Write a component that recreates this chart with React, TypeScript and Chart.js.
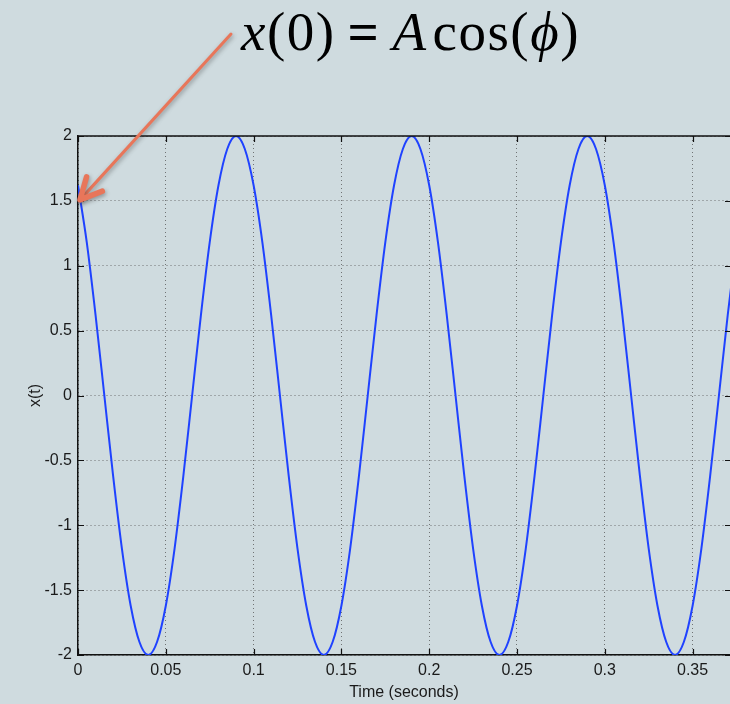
import React, { useEffect, useRef } from 'react';
import { Chart, registerables } from 'chart.js';

Chart.register(...registerables);

// Time samples (seconds)
const timeSeconds = [
  0, 0.005, 0.01, 0.015, 0.02, 0.025, 0.03, 0.035, 0.04, 0.045,
  0.05, 0.055, 0.06, 0.065, 0.07, 0.075, 0.08, 0.085, 0.09, 0.095,
  0.1, 0.105, 0.11, 0.115, 0.12, 0.125, 0.13, 0.135, 0.14, 0.145,
  0.15, 0.155, 0.16, 0.165, 0.17, 0.175, 0.18, 0.185, 0.19, 0.195,
  0.2, 0.205, 0.21, 0.215, 0.22, 0.225, 0.23, 0.235, 0.24, 0.245,
  0.25, 0.255, 0.26, 0.265, 0.27, 0.275, 0.28, 0.285, 0.29, 0.295,
  0.3, 0.305, 0.31, 0.315, 0.32, 0.325, 0.33, 0.335, 0.34, 0.345,
  0.35, 0.355, 0.36, 0.365, 0.37, 0.375,
];

// x(t) values
const signalValues = [
  1.62, 1.18, 0.62, 0, -0.62, -1.18, -1.62, -1.9, -2, -1.9,
  -1.62, -1.18, -0.62, 0, 0.62, 1.18, 1.62, 1.9, 2, 1.9,
  1.62, 1.18, 0.62, 0, -0.62, -1.18, -1.62, -1.9, -2, -1.9,
  -1.62, -1.18, -0.62, 0, 0.62, 1.18, 1.62, 1.9, 2, 1.9,
  1.62, 1.18, 0.62, 0, -0.62, -1.18, -1.62, -1.9, -2, -1.9,
  -1.62, -1.18, -0.62, 0, 0.62, 1.18, 1.62, 1.9, 2, 1.9,
  1.62, 1.18, 0.62, 0, -0.62, -1.18, -1.62, -1.9, -2, -1.9,
  -1.62, -1.18, -0.62, 0, 0.62, 1.18,
];

const xTickValues = [0, 0.05, 0.1, 0.15, 0.2, 0.25, 0.3, 0.35];
const xTickLabels = ['0', '0.05', '0.1', '0.15', '0.2', '0.25', '0.3', '0.35'];
const yTickValues = [-2, -1.5, -1, -0.5, 0, 0.5, 1, 1.5, 2];
const yTickLabels = ['-2', '-1.5', '-1', '-0.5', '0', '0.5', '1', '1.5', '2'];

const X_MIN = 0;
const X_MAX = 0.3713;
const Y_MIN = -2;
const Y_MAX = 2;

const BG = '#cfdbdf';
const LINE_COLOR = '#1f42ff';
const ARROW_COLOR = '#e8765a';
const FONT_FAMILY = '"Liberation Sans", Arial, Helvetica, sans-serif';

const decorPlugin = {
  id: 'decor',
  afterDraw(chart: any) {
    const { ctx, chartArea: a, scales } = chart;
    const xs = scales.x;
    const ys = scales.y;
    ctx.save();
    // frame top line and inward ticks
    ctx.strokeStyle = '#111';
    ctx.lineWidth = 1.5;
    ctx.beginPath();
    ctx.moveTo(a.left, a.top);
    ctx.lineTo(a.right, a.top);
    ctx.stroke();
    ctx.lineWidth = 1.2;
    ctx.beginPath();
    for (const v of xTickValues) {
      const px = Math.round(xs.getPixelForValue(v)) + 0.5;
      ctx.moveTo(px, a.bottom);
      ctx.lineTo(px, a.bottom - 6);
      ctx.moveTo(px, a.top);
      ctx.lineTo(px, a.top + 6);
    }
    for (const v of yTickValues) {
      const py = Math.round(ys.getPixelForValue(v)) + 0.5;
      ctx.moveTo(a.left, py);
      ctx.lineTo(a.left + 6, py);
      ctx.moveTo(a.right, py);
      ctx.lineTo(a.right - 5, py);
    }
    ctx.stroke();

    // annotation arrow
    const tipX = xs.getPixelForValue(0) + 2;
    const tipY = ys.getPixelForValue(1.5) - 1;
    const startX = 231;
    const startY = 34;
    const ang = Math.atan2(startY - tipY, startX - tipX);
    const barb = 24;
    const spread = 0.46;
    ctx.shadowColor = 'rgba(60,60,60,0.45)';
    ctx.shadowBlur = 4;
    ctx.shadowOffsetX = 1;
    ctx.shadowOffsetY = 2;
    ctx.strokeStyle = ARROW_COLOR;
    ctx.lineCap = 'round';
    ctx.lineJoin = 'round';
    ctx.lineWidth = 3;
    ctx.beginPath();
    ctx.moveTo(startX, startY);
    ctx.lineTo(tipX, tipY);
    ctx.stroke();
    ctx.lineWidth = 5.5;
    ctx.beginPath();
    ctx.moveTo(tipX + barb * Math.cos(ang - spread), tipY + barb * Math.sin(ang - spread));
    ctx.lineTo(tipX, tipY);
    ctx.lineTo(tipX + barb * Math.cos(ang + spread), tipY + barb * Math.sin(ang + spread));
    ctx.stroke();
    ctx.restore();
  },
};

const bgPlugin = {
  id: 'bg',
  beforeDraw(chart: any) {
    const { ctx, width, height } = chart;
    ctx.save();
    ctx.fillStyle = BG;
    ctx.fillRect(0, 0, width, height);
    ctx.restore();
  },
};

export default function App() {
  const canvasRef = useRef<HTMLCanvasElement | null>(null);

  useEffect(() => {
    const canvas = canvasRef.current;
    if (!canvas) return;
    const points = timeSeconds.map((t, i) => ({ x: t, y: signalValues[i] }));
    const chart = new Chart(canvas, {
      type: 'line',
      data: {
        datasets: [
          {
            label: 'x(t)',
            data: points,
            borderColor: LINE_COLOR,
            borderWidth: 2,
            pointRadius: 0,
            fill: false,
            cubicInterpolationMode: 'monotone',
          },
        ],
      },
      options: {
        responsive: false,
        animation: false,
        devicePixelRatio: 1,
        layout: { padding: { top: 136, right: 0, left: 0, bottom: 0 } },
        plugins: {
          legend: { display: false },
          tooltip: { enabled: false },
          title: { display: false },
        },
        scales: {
          x: {
            type: 'linear',
            min: X_MIN,
            max: X_MAX,
            afterBuildTicks: (scale: any) => {
              scale.ticks = xTickValues.map((v) => ({ value: v }));
            },
            afterFit: (scale: any) => {
              scale.height = 49;
            },
            ticks: {
              includeBounds: false,
              autoSkip: false,
              maxRotation: 0,
              padding: 6,
              color: '#1a1a1a',
              font: { family: FONT_FAMILY, size: 16 },
              callback: (v: any, i: number) => xTickLabels[i],
            },
            grid: {
              display: true,
              drawTicks: false,
              color: 'rgba(80,80,80,0.75)',
              lineWidth: 1,
            },
            border: { display: true, color: '#111', width: 1.5, dash: [1, 3] },
            title: {
              display: true,
              text: 'Time (seconds)',
              color: '#1a1a1a',
              font: { family: FONT_FAMILY, size: 16 },
              padding: { top: 0, bottom: 2 },
            },
          },
          y: {
            type: 'linear',
            min: Y_MIN,
            max: Y_MAX,
            afterBuildTicks: (scale: any) => {
              scale.ticks = yTickValues.map((v) => ({ value: v }));
            },
            afterFit: (scale: any) => {
              scale.width = 78;
            },
            ticks: {
              includeBounds: false,
              autoSkip: false,
              padding: 6,
              color: '#1a1a1a',
              font: { family: FONT_FAMILY, size: 16 },
              callback: (v: any, i: number) => yTickLabels[i],
            },
            grid: {
              display: true,
              drawTicks: false,
              color: 'rgba(80,80,80,0.75)',
              lineWidth: 1,
            },
            border: { display: true, color: '#111', width: 1.5, dash: [1, 3] },
            title: {
              display: true,
              text: 'x(t)',
              color: '#1a1a1a',
              font: { family: FONT_FAMILY, size: 16 },
              padding: { top: 26, bottom: 0 },
            },
          },
        },
      },
      plugins: [bgPlugin, decorPlugin],
    });
    return () => chart.destroy();
  }, []);

  const serif = '"Liberation Serif", "Times New Roman", Times, serif';

  return (
    <div
      style={{
        position: 'fixed',
        left: 0,
        top: 0,
        width: 730,
        height: 704,
        background: BG,
        overflow: 'hidden',
      }}
    >
      <canvas ref={canvasRef} width={730} height={704} style={{ display: 'block', width: 730, height: 704 }} />
      <div
        style={{
          position: 'absolute',
          left: 241,
          top: 4,
          fontFamily: serif,
          fontSize: 55,
          lineHeight: '55px',
          color: '#000',
          whiteSpace: 'nowrap',
          letterSpacing: '1.5px',
        }}
      >
        <i>x</i>(0)<span style={{ margin: '0 12px', fontWeight: 'bold' }}>=</span>
        <i>A</i>
        <span style={{ marginLeft: 5 }}>cos(</span>
        <i>ϕ</i>)
      </div>
    </div>
  );
}
